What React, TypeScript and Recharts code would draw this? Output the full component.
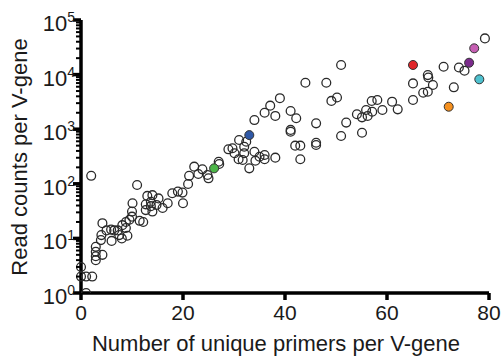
import * as React from 'react';
import { ScatterChart, Scatter, XAxis, YAxis } from 'recharts';

// open circles: primers per V-gene vs read counts
const primers = [
  0, 0, 1, 2.2, 1, 2.9, 2.9, 2.9, 2.9, 4.2,
  3.9, 4, 4.2, 5, 5.9, 6, 6.5, 7.2, 7.5, 8, 9.1, 8.8, 8.1, 8.8, 9.5, 10, 10, 10.1, 11.5, 12.2, 2, 11,
  12.7, 13, 14, 15.2, 13.7, 12.7, 14, 16, 17, 17.9, 19, 19.9, 20, 21, 21.2, 13.7, 14.8,
  22.2, 23.8, 23, 24.8, 25, 27, 27.1, 28.9, 29.7, 30.1, 30.9, 31, 32, 32.4, 32, 34, 34.2, 33, 31.7, 35, 36, 36, 38.1,
  34, 36, 37.1, 39, 38.1, 41.1, 42.2, 41.1, 41.1, 44, 48.1, 51, 46.1, 49.1, 50.2, 42, 43, 46.1, 46.1, 43, 51, 52, 54.1, 55.1, 55.1,
  55.9, 56.2, 57, 57.1, 58.1, 59.1, 61, 62.1, 65.1, 65.1, 67.1, 68, 69, 68, 68.1, 71.1, 73.1, 74.1, 75.2, 79.2,
];
const reads = [
  3, 2, 2, 2, 1, 7, 5.7, 4.7, 4, 5,
  9.3, 11.5, 19, 14, 14.5, 9, 14, 14, 11.5, 10, 11.2, 15.5, 17.5, 20, 22, 25, 31, 44, 21, 20, 140, 95,
  42, 60, 62, 54, 39, 33, 31, 36, 44, 67, 72, 69, 44, 99, 140, 47, 41,
  206, 184, 151, 145, 126, 254, 230, 428, 447, 362, 281, 634, 478, 590, 362, 387, 265, 192, 273, 313, 337, 281, 301,
  1470, 2000, 2700, 3700, 1750, 2150, 1590, 970, 900, 7100, 7100, 15000, 1280, 3300, 3800, 500, 500, 566, 514, 281, 750, 1320, 1880, 1650, 860,
  2250, 1750, 3280, 2090, 3430, 2250, 3190, 2310, 3430, 6900, 4660, 4860, 6450, 9800, 8850, 13900, 5850, 13500, 11800, 46000,
];

// highlighted V-genes
const hlPrimers = [33, 26.1, 65.1, 72.1, 76.1, 77.1, 78.1];
const hlReads = [780, 192, 15000, 2580, 16500, 30300, 8200];
const hlColors = ['#2f58a6', '#4cb548', '#e0262a', '#f5901e', '#7b2b8c', '#c65fb3', '#4ec1cf'];

const xTicks = [0, 20, 40, 60, 80];
const yMajor = [1, 10, 100, 1000, 10000, 100000];
const yMinor = yMajor.slice(0, -1).flatMap((d) => [2, 3, 4, 5, 6, 7, 8, 9].map((m) => m * d));

const openData = primers.map((x, i) => ({ x, y: reads[i] }));
const hlData = hlPrimers.map((x, i) => ({ x, y: hlReads[i], color: hlColors[i] }));

const FONT = 'Arial, "Liberation Sans", Helvetica, sans-serif';

function YTick(props: any) {
  const { x, y, payload } = props;
  const v = payload.value;
  const exp = Math.round(Math.log10(v));
  const major = Math.abs(Math.log10(v) - exp) < 1e-6;
  if (!major) {
    return <line x1={x - 5} x2={x} y1={y} y2={y} stroke="#000" strokeWidth={2} />;
  }
  return (
    <g>
      <line x1={x - 8} x2={x} y1={y} y2={y} stroke="#000" strokeWidth={3.5} />
      <text x={x - 6} y={y + 11} textAnchor="end" fill="#1a1a1a" fontFamily={FONT}>
        <tspan fontSize={22}>10</tspan>
        <tspan fontSize={14} dy={-9}>{exp}</tspan>
      </text>
    </g>
  );
}

function XTick(props: any) {
  const { x, y, payload } = props;
  return (
    <g>
      <line x1={x} x2={x} y1={y} y2={y + 7} stroke="#000" strokeWidth={3.5} />
      <text x={x} y={y + 27} textAnchor="middle" fontSize={21} fill="#1a1a1a" fontFamily={FONT}>
        {payload.value}
      </text>
    </g>
  );
}

const OpenDot = (p: any) => (
  <circle cx={p.cx} cy={p.cy} r={4.4} fill="none" stroke="#2a2a2a" strokeWidth={1.3} />
);
const ColorDot = (p: any) => (
  <circle cx={p.cx} cy={p.cy} r={4.5} fill={p.payload.color} stroke="#333" strokeWidth={1} />
);

export default function App() {
  return (
    <div style={{ position: 'absolute', left: 0, top: 0 }}>
      <ScatterChart width={501} height={358} margin={{ top: 20, right: 12, bottom: 0, left: 0 }}>
        <XAxis
          type="number"
          dataKey="x"
          domain={[0, 80]}
          ticks={xTicks}
          tick={<XTick />}
          tickLine={false}
          tickSize={0}
          tickMargin={0}
          height={65}
          axisLine={{ stroke: '#000', strokeWidth: 3.5 }}
          label={{
            content: () => (
              <text x={276} y={351} textAnchor="middle" fontSize={22} fill="#1a1a1a" fontFamily={FONT}>
                Number of unique primers per V-gene
              </text>
            ),
          }}
        />
        <YAxis
          type="number"
          dataKey="y"
          scale="log"
          domain={[1, 100000]}
          ticks={[...yMajor, ...yMinor]}
          tick={<YTick />}
          tickLine={false}
          tickSize={0}
          tickMargin={0}
          width={81}
          interval={0}
          allowDataOverflow
          axisLine={{ stroke: '#000', strokeWidth: 3.5 }}
          label={{
            content: () => (
              <text
                x={27}
                y={157}
                textAnchor="middle"
                fontSize={22}
                fill="#1a1a1a"
                fontFamily={FONT}
                transform="rotate(-90, 27, 157)"
              >
                Read counts per V-gene
              </text>
            ),
          }}
        />
        <Scatter data={openData} shape={OpenDot} isAnimationActive={false} />
        <Scatter data={hlData} shape={ColorDot} isAnimationActive={false} />
      </ScatterChart>
    </div>
  );
}
